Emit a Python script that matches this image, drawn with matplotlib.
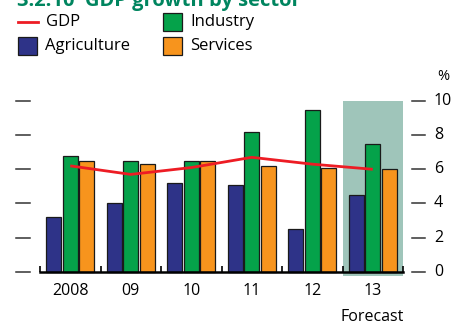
import matplotlib
matplotlib.use("Agg")
import matplotlib.pyplot as plt
from matplotlib.patches import Rectangle
from matplotlib.lines import Line2D
import matplotlib.transforms as mtransforms

plt.rcParams['font.family'] = ['Open Sans', 'DejaVu Sans']

years = ["2008", "09", "10", "11", "12", "13"]
agriculture = [3.2, 4.05, 5.2, 5.1, 2.5, 4.5]
industry = [6.8, 6.5, 6.5, 8.2, 9.5, 7.5]
services = [6.5, 6.3, 6.5, 6.2, 6.1, 6.0]
gdp = [6.2, 5.7, 6.1, 6.7, 6.3, 6.0]
yticks = [0, 2, 4, 6, 8, 10]

C_AGR = "#2E3388"
C_IND = "#05A24A"
C_SER = "#F7941D"
C_GDP = "#ED1C24"
C_SHADE = "#9FC5BA"
C_TITLE = "#00855F"
EDGE = "#1a1a1a"

W, H = 455, 325
fig = plt.figure(figsize=(W / 100, H / 100), dpi=100)

def fx(px):
    return px / W

def fy(py):
    return 1 - py / H

# plot area: x from 40 to 403 px, y=0 at 271.7 px, y=10 at 101 px
ppu = (271.7 - 101) / 10
ymin = -0.25
bottom_px = 271.7 - ymin * ppu
ax = fig.add_axes([fx(40), fy(bottom_px), fx(403 - 40), (bottom_px - 101) / H])
ax.set_xlim(-0.5, 5.5)
ax.set_ylim(ymin, 10)

# forecast shading
ax.axvspan(4.5, 5.5, color=C_SHADE, lw=0, zorder=0)

x = list(range(len(years)))
off, bw = 0.27, 0.25
ax.bar([i - off for i in x], agriculture, bw, color=C_AGR, edgecolor=EDGE, lw=0.9, zorder=2)
ax.bar(x, industry, bw, color=C_IND, edgecolor=EDGE, lw=0.9, zorder=2)
ax.bar([i + off for i in x], services, bw, color=C_SER, edgecolor=EDGE, lw=0.9, zorder=2)
ax.plot(x, gdp, color=C_GDP, lw=2.0, zorder=3, solid_capstyle='butt')

for s in ["top", "left", "right"]:
    ax.spines[s].set_visible(False)
ax.spines["bottom"].set_position(("data", 0))
ax.spines["bottom"].set_linewidth(1.8)
ax.spines["bottom"].set_color("black")

ax.set_xticks(x)
ax.set_xticklabels(years, fontsize=11.5)
ax.tick_params(axis="x", length=0, pad=8)
ax.set_xticks([i - 0.5 for i in range(len(years) + 1)], minor=True)
ax.tick_params(axis="x", which="minor", direction="in", length=4, width=1.2, color="black")

# y ticks drawn as free-standing dashes on both sides
ax.set_yticks([])
trans = mtransforms.blended_transform_factory(ax.transAxes, ax.transData)
span = 403 - 40
for v in yticks:
    ax.add_line(Line2D([(16 - 40) / span, (30 - 40) / span], [v, v], transform=trans,
                       color="#333333", lw=1.1, clip_on=False))
    ax.add_line(Line2D([(412 - 40) / span, (425 - 40) / span], [v, v], transform=trans,
                       color="#333333", lw=1.1, clip_on=False))
    ax.text((434 - 40) / span, v, str(v), transform=trans, fontsize=11.5,
            ha="left", va="center")
fig.text(fx(437), fy(76), "%", fontsize=10.5, ha="left", va="center")
fig.text(fx(372), fy(317), "Forecast", fontsize=11.5, ha="center", va="center")

# title
fig.text(fx(17), fy(6), "3.2.10  GDP growth by sector", fontsize=14.5, fontweight="bold",
         color=C_TITLE, ha="left", va="baseline")

# legend
fig.add_artist(Line2D([fx(18), fx(38)], [fy(22), fy(22)], color=C_GDP, lw=2.0))
fig.text(fx(46), fy(22), "GDP", fontsize=12, va="center")
for (px, py, col, lab) in [(163, 13, C_IND, "Industry"), (18, 37, C_AGR, "Agriculture"),
                           (163, 37, C_SER, "Services")]:
    fig.add_artist(Rectangle((fx(px), fy(py + 18)), fx(19), 18 / H, facecolor=col,
                             edgecolor=EDGE, lw=0.9, transform=fig.transFigure))
    fig.text(fx(px + 27), fy(py + 9), lab, fontsize=12, va="center")

fig.savefig("out.png", dpi=100)
